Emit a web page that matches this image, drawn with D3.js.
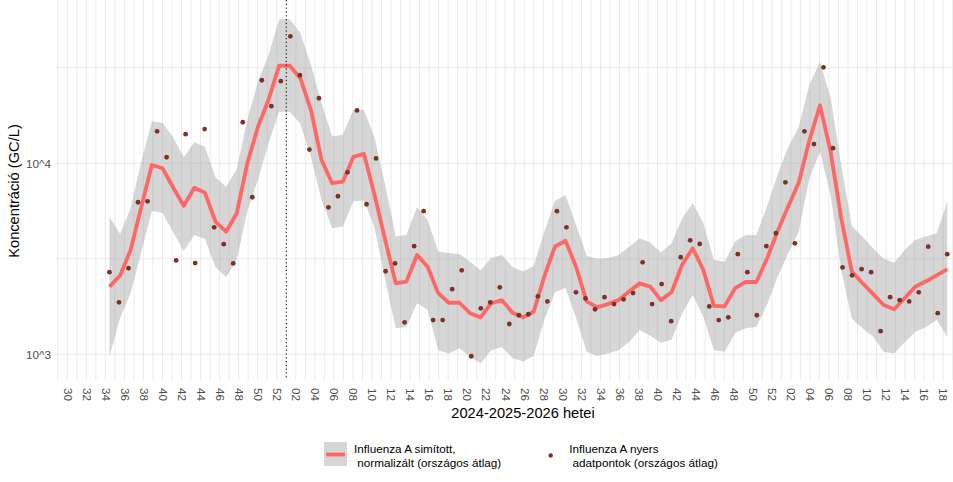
<!DOCTYPE html>
<html><head><meta charset="utf-8">
<script src="https://cdn.jsdelivr.net/npm/d3@7"></script>
<style>
body{margin:0;background:#fff}
svg{display:block}
text{font-family:"Liberation Sans",Arial,Helvetica,sans-serif}
</style>
</head><body>
<svg id="chart" width="953" height="482"></svg>
<script>
// ---- data ----
// raw national-average data points, one per weekly sampling (Thursdays)
const firstSample = "2024-08-22";
const lastSample  = "2026-04-30";
const rawValues = [
  2690, 1870, 2820, 6250, 6320, 14700, 10750, 3100, 14200, 3000,
  15100, 4620, 3770, 2990, 16400, 6640, 27200, 19900, 26900, 46200,
  28900, 11800, 21900, 5880, 6720, 8970, 18900, 6100, 10600, 2720,
  2990, 1470, 3680, 5610, 1510, 1510, 2190, 2750, 976, 1740,
  1870, 2240, 1440, 1600, 1620, 2010, 1890, 5610, 4620, 2110,
  1960, 1720, 1990, 1830, 1940, 2090, 3030, 1830, 2330, 1490,
  3220, 3950, 3780, 1780, 1510, 1560, 3340, 2690, 1600, 3680,
  4300, 7950, 3810, 14700, 12600, 31800, 12000, 2850, 2590, 2790,
  2690, 1320, 1990, 1920, 1890, 2110, 3660, 1640, 3340
];
// smoothed curve (80 evenly spaced points between first and last sample)
const smoothValues = [
  2260, 2580, 3520, 5900, 9800, 9420, 7490, 5980, 7450, 7020,
  4950, 4380, 5470, 10000, 15500, 21500, 32400, 32400, 27900, 19000,
  10400, 7860, 8010, 10800, 11200, 6820, 3970, 2350, 2400, 3310,
  2870, 2090, 1860, 1860, 1640, 1560, 1850, 1920, 1650, 1560,
  1670, 2550, 3660, 3930, 2870, 1890, 1760, 1830, 1920, 2130,
  2350, 2260, 1920, 2110, 2940, 3590, 2760, 1790, 1780, 2220,
  2390, 2390, 3160, 4400, 5930, 7930, 13200, 20100, 11500, 5170,
  2710, 2360, 2070, 1810, 1720, 1970, 2260, 2410, 2590, 2790
];
const smoothUpper = [
  5250, 4260, 5830, 10200, 16600, 16300, 13700, 10800, 12900, 12200,
  8430, 7560, 9300, 16900, 26700, 36900, 56700, 56700, 48100, 32700,
  20600, 13800, 14100, 19000, 19000, 13600, 7700, 4130, 4210, 5900,
  5050, 3450, 3390, 3350, 3050, 2750, 3190, 3310, 2860, 2710,
  2900, 4380, 6350, 6820, 4750, 3270, 3160, 3180, 3310, 3660,
  4050, 3830, 3410, 3810, 5150, 6170, 4850, 3120, 3050, 3890,
  4210, 4210, 5930, 8690, 12200, 15500, 25700, 34000, 22000, 9800,
  4700, 4130, 3590, 3160, 3010, 3520, 3970, 4130, 4300, 6300
];
const smoothLower = [
  971, 1550, 2090, 3430, 5630, 5490, 4370, 3470, 4210, 4010,
  2860, 2530, 3120, 5630, 8180, 12700, 18600, 18600, 16100, 10800,
  6430, 4570, 4660, 6300, 6390, 4580, 2450, 1370, 1390, 1850,
  1710, 1050, 1010, 1075, 971, 897, 1050, 1090, 956, 915,
  980, 1510, 2110, 2220, 1550, 1030, 980, 1010, 1050, 1160,
  1340, 1250, 1150, 1190, 1640, 2040, 1570, 1050, 1030, 1290,
  1370, 1390, 1810, 2540, 3380, 4380, 8380, 11500, 6820, 2760,
  1540, 1370, 1240, 1030, 1010, 1160, 1310, 1390, 1510, 1240
];
const markerDate = "2024-12-30";
const yTickValues = [1000, 10000];
const yTickLabels = ["10^3", "10^4"];
const xTitle = "2024-2025-2026 hetei";
const yTitle = "Koncentráció (GC/L)";
const legendSmooth = ["Influenza A simított,", " normalizált (országos átlag)"];
const legendRaw = ["Influenza A nyers", " adatpontok (országos átlag)"];

// ---- layout ----
const W = 953, H = 482;
const P = {left: 55, right: 991, top: 0, bottom: 380};
const parse = d3.utcParse("%Y-%m-%d");
const svg = d3.select("#chart");

const x = d3.scaleUtc()
  .domain([parse("2024-07-22"), parse("2026-05-04")])
  .range([67.3, 952.7]);
const y = d3.scaleLog().domain([733, 71600]).range([P.bottom, P.top]);

const t0 = parse(firstSample), t1 = parse(lastSample);
const pointDates = d3.utcThursday.range(t0, d3.utcDay.offset(t1, 1));
const points = rawValues.map((v, i) => ({date: pointDates[i], v}));
const nS = smoothValues.length;
const smooth = smoothValues.map((v, k) => ({
  date: new Date(+t0 + (t1 - t0) * k / (nS - 1)),
  v, lo: smoothLower[k], hi: smoothUpper[k]
}));

svg.append("rect").attr("width", W).attr("height", H).attr("fill", "#fff");
svg.append("clipPath").attr("id", "panel")
  .append("rect").attr("x", P.left).attr("y", P.top)
  .attr("width", P.right - P.left).attr("height", P.bottom - P.top);

const g = svg.append("g").attr("clip-path", "url(#panel)");

// grid
const gridX = d3.utcMonday.range(x.invert(P.left - 5), x.invert(P.right + 5));
g.append("g").selectAll("line").data(gridX).join("line")
  .attr("x1", d => x(d)).attr("x2", d => x(d))
  .attr("y1", P.top).attr("y2", P.bottom)
  .attr("stroke", "#ebebeb").attr("stroke-width", 1.05);
const gridY = [Math.pow(10, 3), Math.pow(10, 3.5), Math.pow(10, 4), Math.pow(10, 4.5)];
g.append("g").selectAll("line").data(gridY).join("line")
  .attr("x1", P.left).attr("x2", P.right)
  .attr("y1", d => y(d)).attr("y2", d => y(d))
  .attr("stroke", "#ebebeb").attr("stroke-width", 1.05);

// ribbon
g.append("path").datum(smooth)
  .attr("d", d3.area().x(d => x(d.date)).y0(d => y(d.lo)).y1(d => y(d.hi)))
  .attr("fill", "#999999").attr("fill-opacity", 0.4);

// smoothed line
g.append("path").datum(smooth)
  .attr("d", d3.line().x(d => x(d.date)).y(d => y(d.v)))
  .attr("fill", "none").attr("stroke", "#ff6666")
  .attr("stroke-width", 3.8).attr("stroke-linejoin", "round");

// raw points
g.append("g").selectAll("circle").data(points).join("circle")
  .attr("cx", d => x(d.date)).attr("cy", d => y(d.v)).attr("r", 2.4)
  .attr("fill", "#7c3226");

// dotted year marker
g.append("line")
  .attr("x1", x(parse(markerDate))).attr("x2", x(parse(markerDate)))
  .attr("y1", P.top).attr("y2", P.bottom)
  .attr("stroke", "#000").attr("stroke-width", 1)
  .attr("stroke-dasharray", "1.2,2.6");

// x axis (only ticks whose label fits inside the picture)
const xTicks = d3.utcMonday.range(x.invert(P.left), x.invert(W - 6))
  .filter(d => +d3.utcFormat("%V")(d) % 2 === 0);
const xAxis = svg.append("g").attr("transform", `translate(0,388)`)
  .call(d3.axisBottom(x).tickValues(xTicks).tickFormat(d3.utcFormat("%V")).tickSize(0));
xAxis.select(".domain").remove();
xAxis.selectAll("text")
  .attr("transform", "rotate(90)").attr("x", 0).attr("y", 0)
  .attr("dy", "0.36em").attr("text-anchor", "start")
  .attr("fill", "#4d4d4d").style("font-size", "11.73px")
  .style("font-family", "'Liberation Sans',Arial,sans-serif");

// y axis
const yAxis = svg.append("g").attr("transform", `translate(51,0)`)
  .call(d3.axisLeft(y).tickValues(yTickValues)
    .tickFormat((d, i) => yTickLabels[i]).tickSize(0).tickPadding(0));
yAxis.select(".domain").remove();
yAxis.selectAll("text").attr("fill", "#4d4d4d").attr("dy", "0.34em")
  .style("font-size", "11.73px")
  .style("font-family", "'Liberation Sans',Arial,sans-serif");

// titles
svg.append("text").attr("x", 523).attr("y", 418).attr("text-anchor", "middle")
  .style("font-size", "14.67px").attr("fill", "#000").text(xTitle);
svg.append("text").attr("transform", "translate(18.5,191) rotate(-90)")
  .attr("text-anchor", "middle").style("font-size", "14.67px")
  .attr("fill", "#000").text(yTitle);

// legend
const lg = svg.append("g");
lg.append("rect").attr("x", 324).attr("y", 442).attr("width", 23).attr("height", 24)
  .attr("fill", "#999999").attr("fill-opacity", 0.4);
lg.append("line").attr("x1", 326).attr("x2", 345).attr("y1", 454.5).attr("y2", 454.5)
  .attr("stroke", "#ff6666").attr("stroke-width", 3.8);
const t1g = lg.append("text").attr("x", 354).attr("y", 452.7)
  .style("font-size", "11.73px").style("white-space", "pre").attr("fill", "#000");
legendSmooth.forEach((s, i) => t1g.append("tspan").attr("x", 354).attr("y", 452.7 + i * 14).text(s));
lg.append("circle").attr("cx", 550.7).attr("cy", 455.5).attr("r", 2.2).attr("fill", "#7c3226");
const t2g = lg.append("text").attr("x", 569.3).attr("y", 452.7)
  .style("font-size", "11.73px").style("white-space", "pre").attr("fill", "#000");
legendRaw.forEach((s, i) => t2g.append("tspan").attr("x", 569.3).attr("y", 452.7 + i * 14).text(s));
</script>
</body></html>
